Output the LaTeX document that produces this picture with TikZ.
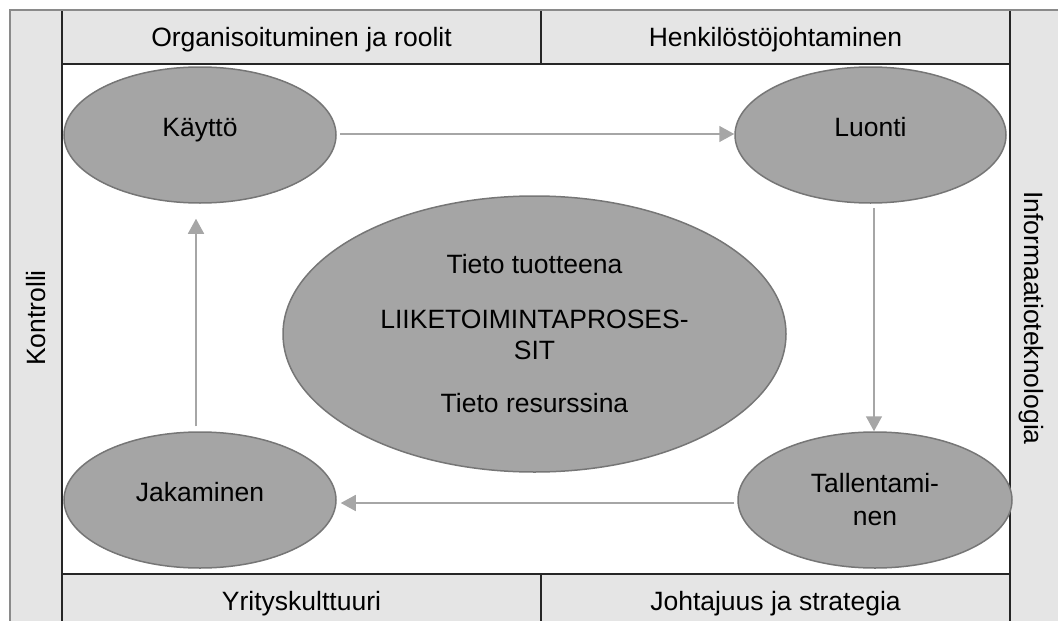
\documentclass[tikz,border=0pt]{standalone}
\usepackage{fontspec}
\setmainfont{Liberation Sans}
\usetikzlibrary{shapes.geometric,arrows.meta,calc}
\definecolor{cellgray}{HTML}{E5E5E5}
\definecolor{ellfill}{HTML}{A5A5A5}
\definecolor{elldraw}{HTML}{767676}
\definecolor{arrgray}{HTML}{A6A6A6}
\definecolor{outergray}{HTML}{8A8A8A}
\tikzset{
  txt/.style={font=\fontsize{26.5}{31}\selectfont},
  cell/.style={txt, fill=cellgray, inner sep=0pt, text height=19pt, text depth=0pt},
  sidetext/.style={txt, inner sep=0pt, text height=19pt, text depth=0pt},
  ell/.style={txt, ellipse, fill=ellfill, draw=elldraw, line width=1.5pt, inner sep=0pt,
    minimum width=272pt, minimum height=136pt, align=center},
  ellone/.style={ell, text height=19pt, text depth=16pt},
  arr/.style={draw=arrgray, line width=1.5pt, -{Triangle[length=15pt,width=16pt]}},
  blk/.style={draw=black!85, line width=1.3pt}
}
\begin{document}
\begin{tikzpicture}[x=1pt,y=-1pt]
\useasboundingbox (0,0) rectangle (1058,621);
% side columns
\fill[cellgray] (10,10) rectangle (62,640);
\fill[cellgray] (1010,10) rectangle (1070,640);
% header / footer cells
\node[cell, minimum width=479pt, minimum height=54pt] (org) at (301.5,37) {Organisoituminen ja roolit};
\node[cell, minimum width=469pt, minimum height=54pt] (hen) at (775.5,37) {Henkilöstöjohtaminen};
\node[cell, minimum width=479pt, minimum height=54pt] (yri) at (301.5,601) {Yrityskulttuuri};
\node[cell, minimum width=469pt, minimum height=54pt] (joh) at (775.5,601) {Johtajuus ja strategia};
% side labels
\node[sidetext, rotate=90] (kon) at (36,318) {Kontrolli};
\node[sidetext, rotate=-90] (inf) at (1034,318) {Informaatioteknologia};
% frame lines
\draw[blk] (62,10) -- (62,640);
\draw[blk] (1010,10) -- (1010,640);
\draw[blk] (62,64) -- (1010,64);
\draw[blk] (62,574) -- (1010,574);
\draw[blk] (541,10) -- (541,64);
\draw[blk] (541,574) -- (541,640);
\draw[outergray, line width=2pt] (10,640) -- (10,10) -- (1070,10);
% ellipses
\node[ellone] (k) at (200,135) {Käyttö};
\node[ellone, minimum width=271pt] (l) at (870.5,135) {Luonti};
\node[ellone] (j) at (200,500) {Jakaminen};
\node[ell, minimum width=274pt, font=\fontsize{26.5}{33}\selectfont] (t) at (875,500) {Tallentami-\\nen};
\node[ell, minimum width=503pt, minimum height=276pt] (c) at (534.5,334)
  {Tieto tuotteena\\[24pt]LIIKETOIMINTAPROSES-\\SIT\\[22pt]Tieto resurssina};
% arrows
\draw[arr] ($(k.east)+(3,-1)$) -- ($(l.west)+(0,-1)$);
\draw[arr] ($(l.south -| t.north)+(-1,4)$) -- ($(t.north)+(-1,0)$);
\draw[arr] ($(t.west)+(-3,3)$) -- ($(j.east)+(4,3)$);
\draw[arr] ($(j.north)+(-4,-5)$) -- ($(k.south)+(-4,15)$);
\end{tikzpicture}
\end{document}
